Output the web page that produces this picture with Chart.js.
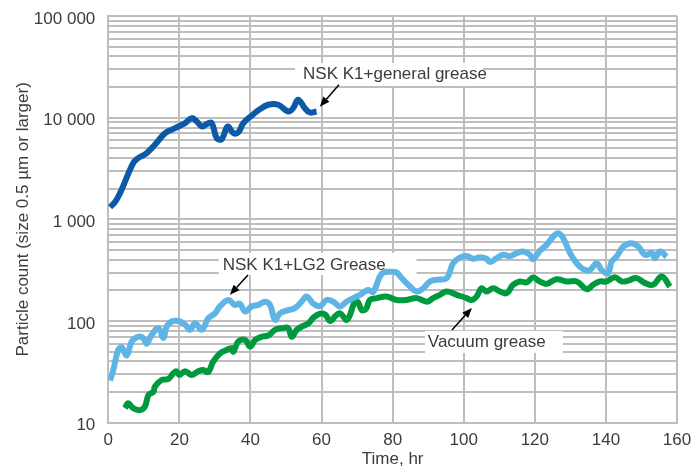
<!DOCTYPE html>
<html lang="en">
<head>
    <meta charset="UTF-8">
    <title>Particle count</title>
    <style>
        body { margin: 0; background: #fff; }
    </style>
</head>
<body>
    <canvas id="chart" width="693" height="473"></canvas>

    <script src="https://cdn.jsdelivr.net/npm/chart.js"></script>
    <script>
        const generalTime = [0.5, 2, 3.3, 4.7, 6.1, 7.3, 8.4, 10.8, 13.1, 16, 18.8, 21.6, 23.5, 24.9, 26.3, 27.8, 29.1, 30.5, 31.9, 33.6, 35.2, 36.6, 38, 40.3, 42.2, 45, 47.8, 50.6, 52, 53.4, 55.3, 56.7, 58.6];
        const generalCount = [1320, 1500, 1810, 2350, 3070, 3700, 4000, 4490, 5410, 7050, 7900, 8850, 9900, 9180, 8190, 8700, 8850, 6300, 6150, 8190, 7050, 7200, 8850, 10450, 11800, 13400, 13400, 11500, 12400, 15000, 12400, 11250, 11500];

        const lg2Time = [0.5, 1.4, 2.8, 3.8, 5.2, 6.6, 8.4, 9.8, 10.8, 12.2, 14.1, 15.5, 16.4, 17.8, 19.7, 21.6, 23, 24.4, 26.3, 28.1, 30, 31.4, 33.8, 35.6, 37, 38.5, 40.3, 42.2, 44.1, 45.5, 46.9, 48.3, 50.6, 52.5, 54.4, 55.8, 57.7, 59.6, 61.4, 63.3, 65.2, 67, 68.9, 70.8, 73.1, 74.5, 76.4, 77.4, 79.2, 81.1, 82.5, 84.9, 86.8, 88.6, 90.5, 92.4, 95.2, 97, 98.9, 100.8, 102.7, 104.6, 106.4, 107.4, 109.3, 111.1, 113, 114.9, 116.7, 118.6, 119.5, 121.4, 123.3, 125.2, 126.6, 128, 129.9, 131.8, 133.6, 135.5, 137.4, 138.8, 140.6, 141.6, 143, 144.9, 147.2, 149.1, 151, 152.9, 153.8, 155.2, 157.1];
        const lg2Count = [26, 33, 52, 55, 46, 63, 70, 68, 60, 73, 85, 68, 88, 99, 100, 92, 82, 95, 82, 106, 119, 139, 161, 144, 148, 124, 139, 144, 155, 144, 103, 119, 128, 134, 155, 174, 148, 140, 161, 155, 139, 155, 168, 181, 202, 193, 274, 300, 305, 300, 265, 218, 195, 210, 245, 255, 264, 370, 420, 435, 410, 425, 410, 380, 415, 448, 435, 465, 482, 450, 405, 490, 561, 678, 731, 653, 465, 370, 324, 318, 370, 318, 295, 384, 430, 540, 583, 540, 448, 465, 415, 482, 430];

        const vacuumTime = [4.7, 5.6, 7, 8.9, 10.3, 11.3, 12.7, 13.1, 15, 16.9, 18.3, 19.2, 20, 21.6, 23.5, 25.3, 26.7, 28.1, 29.5, 31.4, 33.3, 34.7, 35.2, 36.6, 38.5, 39.9, 41.3, 43.1, 45, 46.9, 48.8, 50.6, 51.6, 53, 54.4, 56.3, 57.7, 59.6, 61, 62.4, 64, 65.2, 67.2, 69.4, 70.3, 71.3, 72.5, 73.6, 75.5, 78.3, 81.1, 83.9, 86.8, 89.6, 91.4, 93.3, 95.2, 98, 100.8, 102.2, 103.6, 105, 106.4, 108.3, 110.2, 112.1, 113.9, 115.8, 117.7, 119.5, 121.4, 123.3, 126.1, 128.9, 131.8, 134.6, 136.4, 138.3, 140.2, 142.5, 144.4, 146.3, 148.6, 151, 153.3, 155.7, 158];
        const vacuumCount = [13.9, 15.5, 13.9, 13.3, 14.4, 18.7, 20.2, 22.6, 26.3, 27, 30.6, 32, 29.5, 32, 29.5, 32, 33, 31.5, 39.8, 48, 52, 54, 50, 63, 65, 56, 65, 70, 72, 82, 85, 85, 70, 82, 88, 95, 108, 118, 116, 100, 113, 119, 103, 155, 152, 128, 132, 161, 168, 174, 161, 161, 168, 155, 168, 181, 195, 181, 168, 161, 174, 210, 195, 210, 195, 188, 227, 245, 240, 268, 245, 232, 258, 245, 245, 206, 227, 245, 245, 270, 245, 250, 264, 236, 227, 274, 218];

        const xTicks = [0, 20, 40, 60, 80, 100, 120, 140, 160];
        const decades = [10, 100, 1000, 10000, 100000];

        const gridColor = '#bebebe';
        const textColor = '#3c3c3c';
        const font = { family: "'Liberation Sans', Arial, sans-serif", size: 17 };

        // grid lines at 1..9 of every decade, labels only on the decades
        const yTicks = [];
        decades.slice(0, -1).forEach(d => {
            for (let m = 1; m < 10; m++) yTicks.push(d * m);
        });
        yTicks.push(decades[decades.length - 1]);

        const notes = [
            { text: 'NSK K1+general grease', box: [52.5, 105.4, 34700, 20600], at: [54.8, 26400], arrow: [64.9, 21100, 59.5, 12800] },
            { text: 'NSK K1+LG2 Grease', box: [31.1, 86.7, 468, 283], at: [32.2, 357], arrow: [39.3, 284, 34.2, 181] },
            { text: 'Vacuum grease', box: [89.1, 127.9, 79.9, 48.5], at: [89.9, 62.3], arrow: [96.7, 81.7, 102.3, 134.6] }
        ];

        const points = (ts, vs) => ts.map((t, i) => ({ x: t, y: vs[i] }));

        const notePlugin = {
            id: 'notes',
            beforeDatasetsDraw(chart) {
                const { ctx, scales: { x, y } } = chart;
                ctx.save();
                notes.forEach(n => {
                    const x1 = x.getPixelForValue(n.box[0]);
                    const x2 = x.getPixelForValue(n.box[1]);
                    const y1 = y.getPixelForValue(n.box[2]);
                    const y2 = y.getPixelForValue(n.box[3]);
                    ctx.fillStyle = '#fff';
                    ctx.fillRect(x1, y1, x2 - x1, y2 - y1);
                    ctx.fillStyle = textColor;
                    ctx.font = `${font.size}px ${font.family}`;
                    ctx.textBaseline = 'middle';
                    ctx.fillText(n.text, x.getPixelForValue(n.at[0]), y.getPixelForValue(n.at[1]));
                });
                ctx.restore();
            },
            afterDatasetsDraw(chart) {
                const { ctx, scales: { x, y } } = chart;
                ctx.save();
                ctx.strokeStyle = '#000';
                ctx.fillStyle = '#000';
                ctx.lineWidth = 1.5;
                notes.forEach(n => {
                    const x0 = x.getPixelForValue(n.arrow[0]);
                    const y0 = y.getPixelForValue(n.arrow[1]);
                    const x1 = x.getPixelForValue(n.arrow[2]);
                    const y1 = y.getPixelForValue(n.arrow[3]);
                    const a = Math.atan2(y1 - y0, x1 - x0);
                    const len = 10, half = 4;
                    const bx = x1 - len * Math.cos(a), by = y1 - len * Math.sin(a);
                    ctx.beginPath();
                    ctx.moveTo(x0, y0);
                    ctx.lineTo(bx, by);
                    ctx.stroke();
                    ctx.beginPath();
                    ctx.moveTo(x1, y1);
                    ctx.lineTo(bx + half * Math.sin(a), by - half * Math.cos(a));
                    ctx.lineTo(bx - half * Math.sin(a), by + half * Math.cos(a));
                    ctx.closePath();
                    ctx.fill();
                });
                ctx.restore();
            }
        };

        const line = (label, data, color) => ({
            label,
            data,
            borderColor: color,
            borderWidth: 6,
            pointRadius: 0,
            tension: 0.4,
            borderCapStyle: 'butt',
            borderJoinStyle: 'round',
            fill: false
        });

        new Chart(document.getElementById('chart'), {
            type: 'line',
            data: {
                datasets: [
                    line('NSK K1+LG2 Grease', points(lg2Time, lg2Count), '#5fb4e6'),
                    line('Vacuum grease', points(vacuumTime, vacuumCount), '#009a3e'),
                    line('NSK K1+general grease', points(generalTime, generalCount), '#0b5aa8')
                ]
            },
            options: {
                responsive: false,
                animation: false,
                layout: { padding: { top: 16, right: 16, left: 0, bottom: 0 } },
                plugins: {
                    legend: { display: false },
                    tooltip: { enabled: false }
                },
                scales: {
                    x: {
                        type: 'linear',
                        min: 0,
                        max: 160,
                        afterBuildTicks: s => { s.ticks = xTicks.map(v => ({ value: v })); },
                        afterFit: s => { s.height = 50.3; s.paddingLeft = 0; s.paddingRight = 0; },
                        grid: { color: gridColor, lineWidth: 2, drawTicks: false },
                        border: { color: gridColor, width: 2 },
                        ticks: { font, color: textColor, padding: 7, maxRotation: 0 },
                        title: { display: true, text: 'Time, hr', font, color: textColor, padding: { top: 3, bottom: 3 } }
                    },
                    y: {
                        type: 'logarithmic',
                        min: 10,
                        max: 100000,
                        afterBuildTicks: s => { s.ticks = yTicks.map(v => ({ value: v })); },
                        afterFit: s => { s.width = 108.3; s.paddingTop = 0; s.paddingBottom = 0; },
                        grid: { color: gridColor, lineWidth: 2, drawTicks: false },
                        border: { color: gridColor, width: 2 },
                        ticks: {
                            font,
                            color: textColor,
                            padding: 13,
                            labelOffset: 3,
                            autoSkip: false,
                            callback: v => decades.includes(v) ? String(v).replace(/\B(?=(\d{3})+(?!\d))/g, ' ') : ''
                        },
                        title: { display: true, text: 'Particle count (size 0.5 µm or larger)', font, color: textColor, padding: { top: 13, bottom: 0 } }
                    }
                }
            },
            plugins: [notePlugin]
        });
    </script>
</body>
</html>
